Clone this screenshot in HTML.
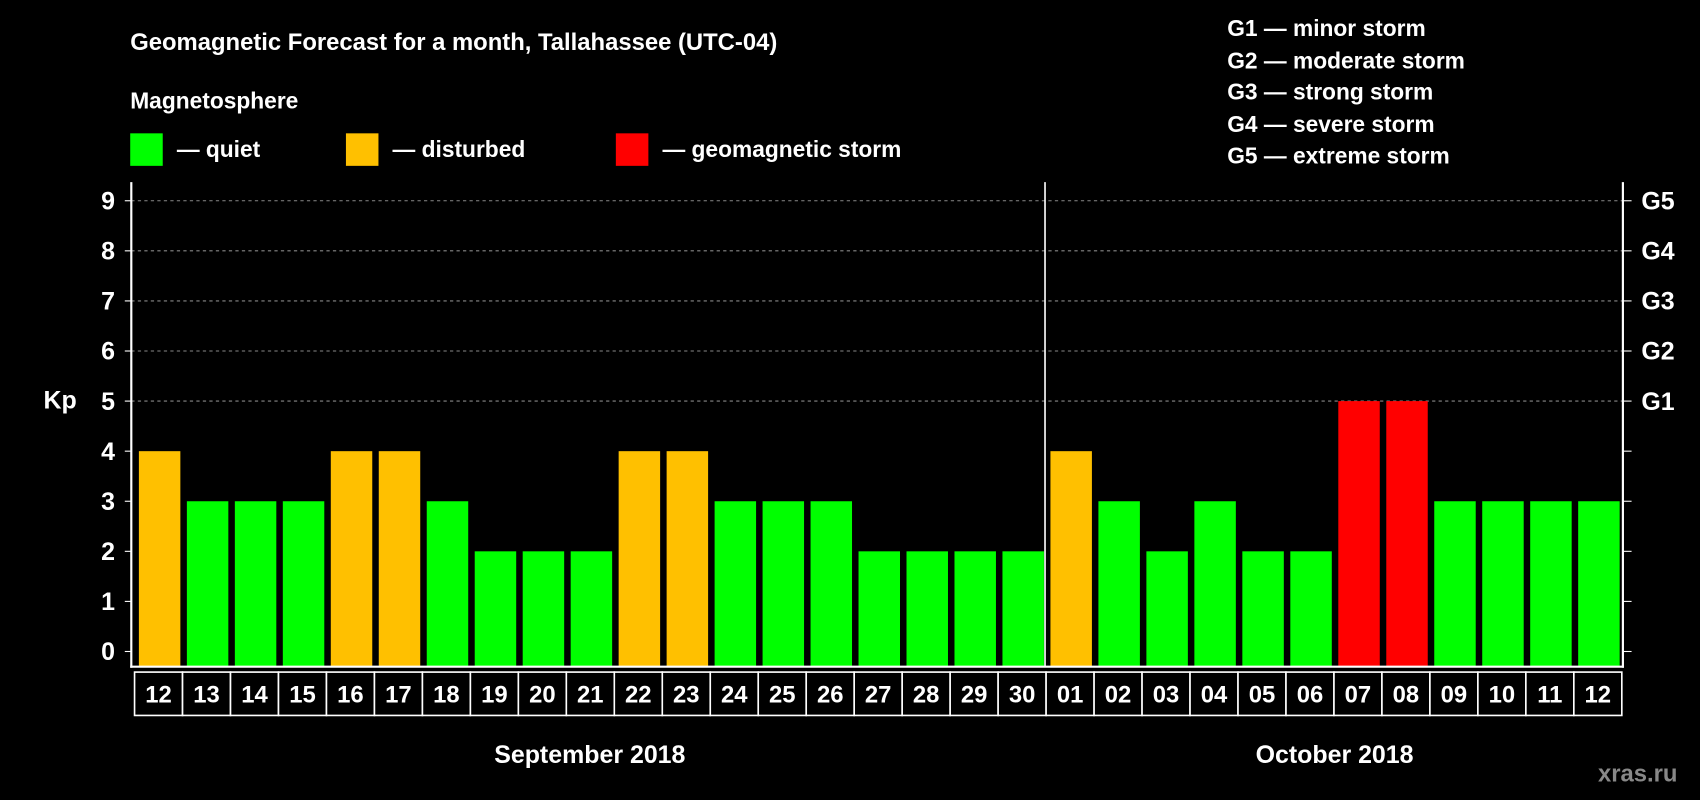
<!DOCTYPE html>
<html><head><meta charset="utf-8"><style>
html,body{margin:0;padding:0;background:#000;width:1700px;height:800px;overflow:hidden}
svg text{font-family:"Liberation Sans",sans-serif;font-weight:bold;fill:#fff}
</style></head><body>
<svg id="chart" width="1700" height="800" viewBox="0 0 1568 738">
<text x="120" y="46" font-size="22">Geomagnetic Forecast for a month, Tallahassee (UTC-04)</text>
<text x="120" y="100" font-size="21">Magnetosphere</text>
<rect x="120" y="123" width="30" height="30" fill="#00ff00"/>
<text x="163" y="145" font-size="21">— quiet</text>
<rect x="319" y="123" width="30" height="30" fill="#ffc000"/>
<text x="362" y="145" font-size="21">— disturbed</text>
<rect x="568" y="123" width="30" height="30" fill="#ff0000"/>
<text x="611" y="145" font-size="21">— geomagnetic storm</text>
<g font-size="21">
<text x="1132" y="33">G1 — minor storm</text>
<text x="1132" y="63">G2 — moderate storm</text>
<text x="1132" y="92">G3 — strong storm</text>
<text x="1132" y="122">G4 — severe storm</text>
<text x="1132" y="151">G5 — extreme storm</text>
</g>
<text x="40" y="377" font-size="23">Kp</text>
<text x="1474" y="721" font-size="22" style="fill:#888">xras.ru</text>
<text x="544" y="704" font-size="23" text-anchor="middle">September 2018</text>
<text x="1231" y="704" font-size="23" text-anchor="middle">October 2018</text>
<g id="plot"></g>
</svg>
<script>
const days=["12","13","14","15","16","17","18","19","20","21","22","23","24","25","26","27","28","29","30","01","02","03","04","05","06","07","08","09","10","11","12"];
const kp=[4,3,3,3,4,4,3,2,2,2,4,4,3,3,3,2,2,2,2,4,3,2,3,2,2,5,5,3,3,3,3];
const yTicks=[0,1,2,3,4,5,6,7,8,9];
const gLabels=["G1","G2","G3","G4","G5"];
const NS="http://www.w3.org/2000/svg";
const g=document.getElementById('plot');
const X0=124,X1=1496,Y0=601,UNIT=46.2,BASE=615;
const colW=(X1-X0)/days.length;
const xs=i=>X0+i*colW;
const ys=v=>Y0-v*UNIT;
function mk(t,a){const e=document.createElementNS(NS,t);for(const k in a)e.setAttribute(k,a[k]);g.appendChild(e);return e;}
yTicks.forEach(v=>{
 if(v>=5){const l=mk('line',{x1:121,x2:1497,y1:ys(v),y2:ys(v),stroke:'#888','stroke-dasharray':'3,3','stroke-width':1});
 
 }
 const t=mk('text',{x:106,y:ys(v)+8,'font-size':23,'text-anchor':'end'});t.textContent=v;
 
 
 mk('line',{x1:115,x2:121,y1:ys(v),y2:ys(v),stroke:'#fff'});
 mk('line',{x1:1497,x2:1505,y1:ys(v),y2:ys(v),stroke:'#fff'});
});
gLabels.forEach((s,i)=>{const t=mk('text',{x:1514,y:ys(5+i)+8,'font-size':23});t.textContent=s;
 
 });
kp.forEach((v,i)=>{
 const c=v>=5?'#ff0000':(v>=4?'#ffc000':'#00ff00');
 const r=mk('rect',{x:xs(i)+4,y:ys(v),width:colW-6,height:BASE-ys(v),fill:c});
 
 
 mk('rect',{x:xs(i),y:620,width:colW,height:40,fill:'#000',stroke:'#fff','stroke-width':1.5});
 const t=mk('text',{x:xs(i)+colW/2,y:648,'font-size':22,'text-anchor':'middle'});t.textContent=days[i];
 
 
});
mk('line',{x1:121,x2:121,y1:168,y2:616,stroke:'#fff','stroke-width':2});
mk('line',{x1:1497,x2:1497,y1:168,y2:616,stroke:'#fff','stroke-width':2});
mk('line',{x1:120,x2:1498,y1:615,y2:615,stroke:'#fff','stroke-width':2});
mk('line',{x1:xs(19)-1,x2:xs(19)-1,y1:168,y2:615,stroke:'#fff','stroke-width':1.5});
</script>
</body></html>
